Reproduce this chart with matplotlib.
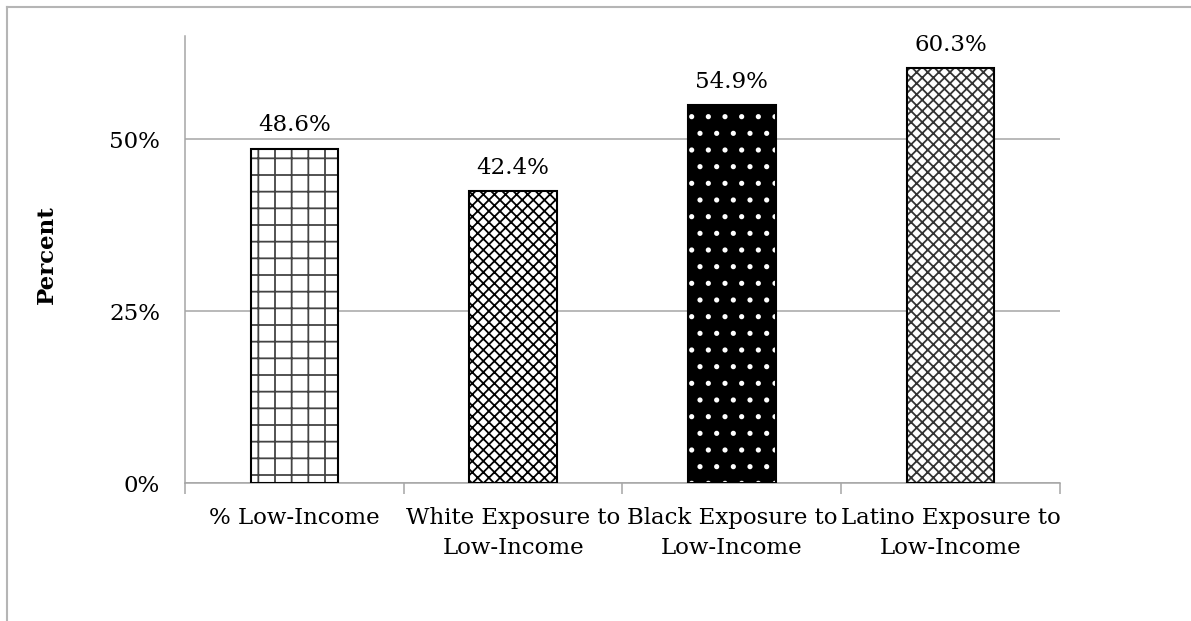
import numpy as np
from matplotlib import pyplot as plt
from matplotlib.lines import Line2D

categories = ["% Low-Income", "White Exposure to\nLow-Income",
              "Black Exposure to\nLow-Income", "Latino Exposure to\nLow-Income"]
values = [48.6, 42.4, 54.9, 60.3]
hatches = ["+", "xxx", ".", "xxx"]
faces = ["white", "white", "black", "white"]
hatch_cols = ["#444444", "black", "white", "#333333"]

plt.rcParams['font.family'] = ['DejaVu Serif']
plt.rcParams['hatch.linewidth'] = 1.3
grey = "#a6a6a6"
fs = 16.5

fig = plt.figure(figsize=(11.91, 6.21), dpi=100)
ax = fig.add_axes([0.1553, 0.2222, 0.7347, 0.7198])

x = np.arange(len(values))
# hatch layer, then outline on top
ax.bar(x, values, width=0.4, color=faces, edgecolor=hatch_cols, hatch=hatches,
       linewidth=0, zorder=3)
ax.bar(x, values, width=0.4, fill=False, edgecolor="black", linewidth=1.5, zorder=4)

for xi, v in zip(x, values):
    ax.text(xi, v + 1.8, f"{v:.1f}%", ha="center", va="bottom", fontsize=fs)

ax.set_ylim(0, 65)
ax.set_xlim(-0.5, len(values) - 0.5)
ax.set_yticks([0, 25, 50])
ax.set_yticklabels(["0%", "25%", "50%"], fontsize=fs)
ax.tick_params(axis="y", length=0, pad=18)
ax.yaxis.grid(True, color=grey, linewidth=1.1, zorder=0)
ax.set_axisbelow(True)

ax.set_xticks(np.arange(len(values) + 1) - 0.5)
ax.set_xticklabels([])
ax.set_xticks(x, minor=True)
ax.set_xticklabels(categories, minor=True, fontsize=fs, linespacing=1.5)
ax.tick_params(axis="x", which="major", length=8, width=1.1, color=grey, direction="out")
ax.tick_params(axis="x", which="minor", length=0, pad=17)

for s in ["top", "right"]:
    ax.spines[s].set_visible(False)
for s in ["left", "bottom"]:
    ax.spines[s].set_color(grey)
    ax.spines[s].set_linewidth(1.1)

ax.set_ylabel("Percent", fontsize=fs, fontweight="bold")
ax.yaxis.set_label_coords(-0.145, 0.51)

# outer chart border (top and left edges visible)
fig.add_artist(Line2D([0.0055, 1.0], [0.989, 0.989], color="#b5b5b5", linewidth=1.5,
                      transform=fig.transFigure))
fig.add_artist(Line2D([0.0058, 0.0058], [0.0, 0.989], color="#b5b5b5", linewidth=1.5,
                      transform=fig.transFigure))

fig.savefig("out.png", dpi=100)
